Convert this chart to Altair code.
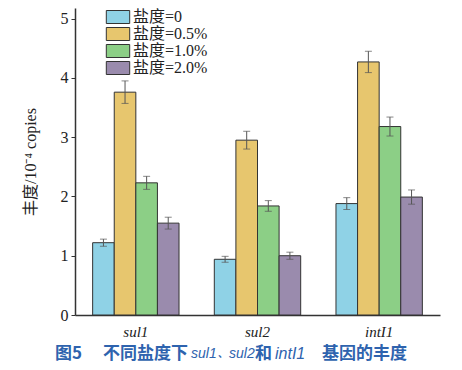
import altair as alt
import pandas as pd

genes = ["sul1", "sul2", "intI1"]
salinity = ["盐度=0", "盐度=0.5%", "盐度=1.0%", "盐度=2.0%"]
colors = ["#8FD2E6", "#E7C66E", "#8CCF86", "#9A8BAD"]
vals_sul1 = [1.22, 3.76, 2.23, 1.55]
err_sul1 = [0.06, 0.19, 0.11, 0.10]
vals_sul2 = [0.94, 2.95, 1.84, 1.00]
err_sul2 = [0.05, 0.15, 0.09, 0.06]
vals_int = [1.88, 4.27, 3.18, 1.99]
err_int = [0.10, 0.18, 0.16, 0.12]
caption_parts = ["图5", "不同盐度下", "sul1", "、", "sul2", "和", "intI1", "基因的丰度"]

rows = []
for g, vs, es in [("sul1", vals_sul1, err_sul1), ("sul2", vals_sul2, err_sul2), ("intI1", vals_int, err_int)]:
    for s, v, e in zip(salinity, vs, es):
        rows.append({"gene": g, "sal": s, "v": v, "lo": v - e, "hi": v + e})
df = pd.DataFrame(rows)

serif = "Liberation Serif, Noto Sans CJK SC"

x = alt.X("gene:N", sort=genes,
          scale=alt.Scale(paddingInner=0.29, paddingOuter=0.145),
          axis=alt.Axis(title=None, labelAngle=0, ticks=False, labelPadding=9,
                        labelFont=serif, labelFontSize=15, labelFontStyle="italic",
                        labelColor="#222", domainColor="#333", domainWidth=1.5))
xo = alt.XOffset("sal:N", sort=salinity, scale=alt.Scale(paddingInner=0, paddingOuter=0))

base = alt.Chart(df)

bars = base.mark_bar(stroke="#333", strokeWidth=1, opacity=1).encode(
    x=x, xOffset=xo,
    y=alt.Y("v:Q", scale=alt.Scale(domain=[0, 5.18], nice=False),
            axis=alt.Axis(title="丰度/10⁻⁴ copies", values=[0, 1, 2, 3, 4, 5], format="d", grid=False,
                          tickSize=4, tickColor="#333", labelPadding=3,
                          labelFont=serif, labelFontSize=16, labelColor="#222",
                          domainColor="#333", domainWidth=1.5,
                          titleFont=serif, titleFontSize=16, titleFontWeight="normal",
                          titleColor="#222", titlePadding=22)),
    color=alt.Color("sal:N", sort=salinity,
                    scale=alt.Scale(domain=salinity, range=colors),
                    legend=alt.Legend(title=None, orient="none", legendX=35, legendY=1,
                                      symbolType="M-1.8,-1L1.8,-1L1.8,1L-1.8,1Z",
                                      symbolSize=169, symbolStrokeColor="#333",
                                      symbolStrokeWidth=1, symbolOpacity=1,
                                      labelFont=serif, labelFontSize=16, labelColor="#222",
                                      rowPadding=-2.7, labelOffset=7)),
)

err = base.mark_rule(color="#555", strokeWidth=1).encode(
    x=x, xOffset=xo, y="lo:Q", y2="hi:Q")
cap_lo = base.mark_tick(color="#555", thickness=1, size=7, orient="horizontal").encode(
    x=x, xOffset=xo, y="lo:Q")
cap_hi = base.mark_tick(color="#555", thickness=1, size=7, orient="horizontal").encode(
    x=x, xOffset=xo, y="hi:Q")

cap_x = [-20, 28, 116, 143, 154, 180, 200, 247]
cap_size = [17, 17, 14, 10, 14, 17, 16, 17]
cap_italic = [False, False, True, False, True, False, True, False]
caption_layers = []
for t, cx, fs, it in zip(caption_parts, cap_x, cap_size, cap_italic):
    caption_layers.append(
        alt.Chart(alt.Data(values=[{"t": t}])).mark_text(
            font="Liberation Sans" if it else "Noto Sans CJK SC",
            fontSize=fs, fontWeight="normal" if it else "bold",
            fontStyle="italic" if it else "normal",
            color="#2E63AE", align="left", baseline="middle"
        ).encode(text="t:N", x=alt.value(cx), y=alt.value(346))
    )

chart = alt.layer(bars, err, cap_lo, cap_hi, *caption_layers).properties(
    width=365, height=307,
    autosize=alt.AutoSizeParams(type="none"),
    padding={"left": 67, "top": 0, "right": 14, "bottom": 50},
).configure_view(stroke=None)

chart.save("out.html", embed_options={"renderer": "svg", "actions": False})
